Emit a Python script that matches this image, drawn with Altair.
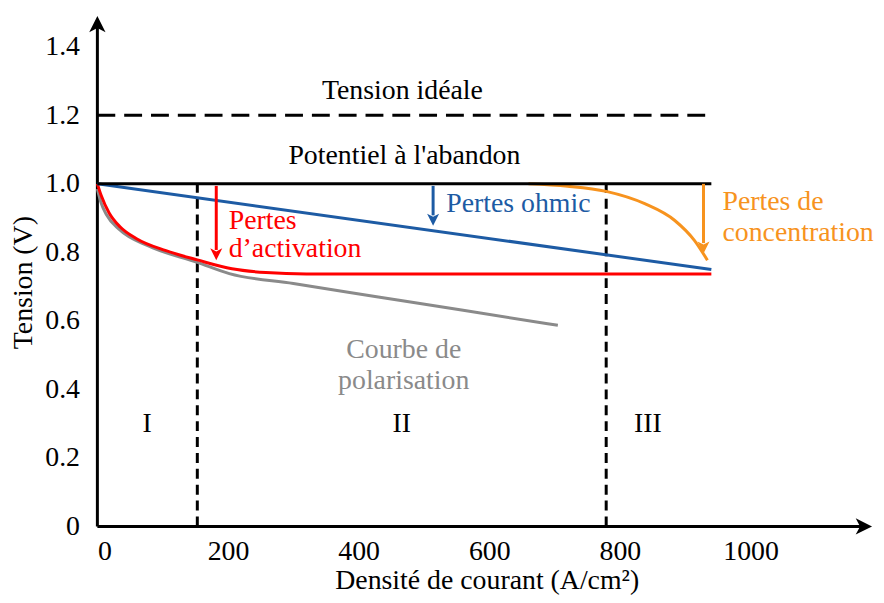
import altair as alt
import pandas as pd

FONT = "Liberation Serif, Times New Roman, Times, DejaVu Serif, serif"
FS = 28

# ---- data ----
x_ticks = [0, 200, 400, 600, 800, 1000]
y_ticks = [0, 0.2, 0.4, 0.6, 0.8, 1.0, 1.2, 1.4]

act_x = [0, 6, 18, 35, 60, 105, 153, 206, 258, 320, 940]
act_y = [1.0, 0.965, 0.915, 0.874, 0.84, 0.805, 0.778, 0.752, 0.741, 0.737, 0.737]

pol_x = [0, 5, 14, 34, 79, 153, 202, 300, 430, 560, 705]
pol_y = [0.985, 0.948, 0.91, 0.866, 0.818, 0.771, 0.738, 0.709, 0.67, 0.631, 0.587]

conc_x = [660, 720, 779, 838, 884, 914, 934]
conc_y = [1.0, 0.993, 0.978, 0.942, 0.893, 0.835, 0.777]

ohm_x = [0, 940]
ohm_y = [1.0, 0.75]

ideal_v = 1.2
ocv_v = 1.0
line_end = 940
region_bounds = [153, 779]
region_names = ["I", "II", "III"]
region_x = [76, 466, 843]
region_y = 0.30

# arrows: x, top, tip
red_arrow = (182, 0.994, 0.777)
blue_arrow = (514, 0.994, 0.878)
orange_arrow = (928, 1.0, 0.797)

X_MAX = 1186
Y_MAX = 1.49

xs = alt.Scale(domain=[0, X_MAX], nice=False, zero=False)
ys = alt.Scale(domain=[0, Y_MAX], nice=False, zero=False)

RED = "#ff0000"
BLUE = "#1d5ba4"
ORANGE = "#f7931e"
GRAY = "#8a8a8a"

ARROW = "M0,0 L-0.75,1.5 L0,1.1 L0.75,1.5 Z"

X_AXIS = alt.Axis(values=x_ticks, format="d", domain=False, ticks=False, grid=False,
                  labelFont=FONT, labelFontSize=FS, labelColor="black", labelPadding=11,
                  title="Densité de courant (A/cm²)", titleFont=FONT, titleFontSize=FS,
                  titleFontWeight="normal", titleColor="black", titleX=392, titleY=62,
                  titleBaseline="alphabetic", titleAlign="center")
Y_AXIS = alt.Axis(values=y_ticks, domain=False, ticks=False, grid=False,
                  labelExpr="datum.value == 0 ? '0' : format(datum.value, '.1f')",
                  labelFont=FONT, labelFontSize=FS, labelColor="black", labelPadding=18,
                  title="Tension (V)", titleFont=FONT, titleFontSize=FS,
                  titleFontWeight="normal", titleColor="black", titleX=-74, titleY=268,
                  titleBaseline="middle", titleAlign="center", titleAngle=-90)


def X(field="x"):
    return alt.X(field, type="quantitative", scale=xs, axis=X_AXIS)


def Y(field="y"):
    return alt.Y(field, type="quantitative", scale=ys, axis=Y_AXIS)


# axes lines
axes_df = pd.DataFrame({"x": [0, 0], "y": [0, 0], "x2": [X_MAX - 10, 0], "y2": [0, Y_MAX - 0.02]})
axes_lines = alt.Chart(axes_df).mark_rule(color="black", strokeWidth=3).encode(
    x=X("x"), y=Y("y"), x2="x2", y2="y2")

heads_df = pd.DataFrame({"x": [X_MAX, 0], "y": [0, Y_MAX], "a": [90, 0]})
axes_heads = alt.Chart(heads_df).mark_point(shape=ARROW, filled=True, size=480, color="black",
                                            opacity=1, strokeWidth=0).encode(
    x=X(), y=Y(), angle=alt.Angle("a:Q", scale=None))

ideal = alt.Chart(pd.DataFrame({"x": [0], "x2": [line_end], "y": [ideal_v]})).mark_rule(
    color="black", strokeWidth=3, strokeDash=[18, 9]).encode(x=X(), x2="x2", y=Y())
ocv = alt.Chart(pd.DataFrame({"x": [0], "x2": [line_end], "y": [ocv_v]})).mark_rule(
    color="black", strokeWidth=3).encode(x=X(), x2="x2", y=Y())
bounds = alt.Chart(pd.DataFrame({"x": region_bounds, "y": [0, 0], "y2": [ocv_v, ocv_v]})).mark_rule(
    color="black", strokeWidth=3, strokeDash=[10, 6]).encode(x=X(), y=Y(), y2="y2")

pol = alt.Chart(pd.DataFrame({"x": pol_x, "y": pol_y})).mark_line(
    color=GRAY, strokeWidth=3, interpolate="monotone").encode(x=X(), y=Y())
act = alt.Chart(pd.DataFrame({"x": act_x, "y": act_y})).mark_line(
    color=RED, strokeWidth=3, interpolate="monotone").encode(x=X(), y=Y())
ohm = alt.Chart(pd.DataFrame({"x": ohm_x, "y": ohm_y})).mark_line(
    color=BLUE, strokeWidth=3).encode(x=X(), y=Y())
conc = alt.Chart(pd.DataFrame({"x": conc_x, "y": conc_y})).mark_line(
    color=ORANGE, strokeWidth=3, interpolate="monotone").encode(x=X(), y=Y())


def arrow(spec, color):
    x, top, tip = spec
    shaft = alt.Chart(pd.DataFrame({"x": [x], "y": [top], "y2": [tip + 0.03]})).mark_rule(
        color=color, strokeWidth=3).encode(x=X(), y=Y(), y2="y2")
    head = alt.Chart(pd.DataFrame({"x": [x], "y": [tip]})).mark_point(
        shape=ARROW, filled=True, size=260, color=color, opacity=1, strokeWidth=0, angle=180
    ).encode(x=X(), y=Y())
    return shaft + head


def label(xv, yv, texts, color, align="center", size=FS):
    df = pd.DataFrame({"x": xv, "y": yv, "t": texts})
    return alt.Chart(df).mark_text(font=FONT, fontSize=size, color=color, align=align,
                                   baseline="middle").encode(x=X(), y=Y(), text="t:N")


texts = (
    label([467], [1.27], ["Tension idéale"], "black")
    + label([470], [1.081], ["Potentiel à l'abandon"], "black")
    + label([534], [0.942], ["Pertes ohmic"], BLUE, "left")
    + label([201, 201], [0.892, 0.81], ["Pertes", "d’activation"], RED, "left")
    + label([957, 957], [0.948, 0.855], ["Pertes de", "concentration"], ORANGE, "left")
    + label([469, 469], [0.516, 0.423], ["Courbe de", "polarisation"], GRAY)
    + label(region_x, [region_y] * 3, region_names, "black")
)

chart = alt.layer(
    axes_lines, axes_heads, ideal, bounds, pol, act, ohm, conc, ocv,
    arrow(red_arrow, RED), arrow(blue_arrow, BLUE), arrow(orange_arrow, ORANGE),
    texts,
).properties(
    width=780, height=514,
    autosize=alt.AutoSizeParams(type="none"),
    padding={"left": 90, "top": 6, "right": 4, "bottom": 67},
    background="white",
).configure_view(stroke=None)

chart.save("out.html", embed_options={"renderer": "svg", "actions": False})
